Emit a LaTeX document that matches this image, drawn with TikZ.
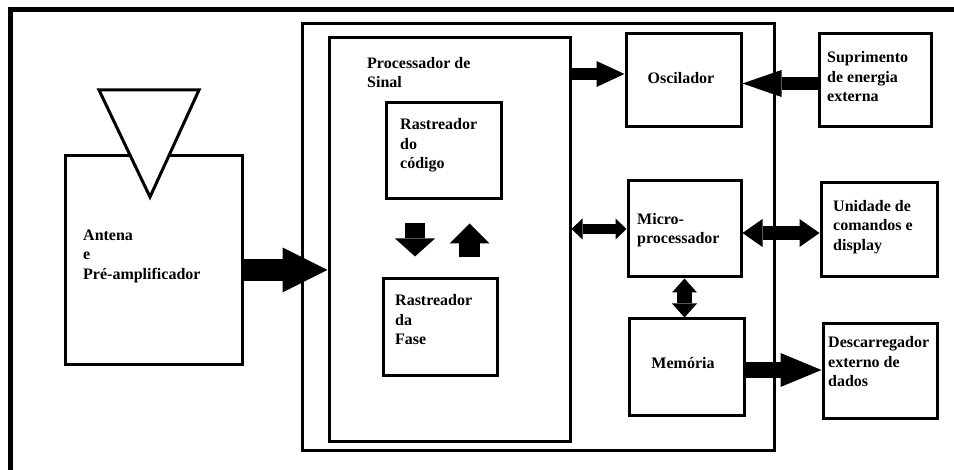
\documentclass[tikz,border=0pt]{standalone}
\usepackage{fontspec}
\setmainfont{Liberation Serif}
\usetikzlibrary{arrows.meta}
\tikzset{
  box/.style={draw, line width=3pt, inner sep=0pt},
  txt/.style={font=\bfseries\fontsize{16}{19.5}\selectfont, align=left, inner sep=0pt, anchor=west},
  blk/.style n args={3}{line width=#1, arrows={-Triangle[length=#2,width=#3,line width=0pt]}},
  dbl/.style n args={3}{line width=#1, arrows={Triangle[length=#2,width=#3,line width=0pt]-Triangle[length=#2,width=#3,line width=0pt]}}
}
\begin{document}
\begin{tikzpicture}[x=1pt,y=-1pt]
\useasboundingbox (0,0) rectangle (954,470);
% outer frame (only top and left visible)
\draw[line width=5pt, line join=miter] (10.5,480) -- (10.5,9.5) -- (960,9.5);

% boxes
\node[box, minimum width=472pt, minimum height=427pt] (big) at (538,237.5) {};
\node[box, minimum width=241pt, minimum height=404pt] (proc) at (449.5,240) {};
\node[box, minimum width=115pt, minimum height=93pt] (osc) at (683.5,80.5) {};
\node[box, minimum width=112pt, minimum height=93pt] (sup) at (875,80.5) {};
\node[box, minimum width=113pt, minimum height=96pt] (micro) at (684.5,229) {};
\node[box, minimum width=116pt, minimum height=94pt] (uni) at (879,230) {};
\node[box, minimum width=115pt, minimum height=97pt] (mem) at (686.5,367.5) {};
\node[box, minimum width=114pt, minimum height=95pt] (desc) at (880,371.5) {};
\node[box, minimum width=115pt, minimum height=96pt] (cod) at (443.5,151) {};
\node[box, minimum width=114pt, minimum height=97pt] (fase) at (440,327.5) {};
\node[box, minimum width=177pt, minimum height=209pt] (ant) at (153.5,260.5) {};
% antenna symbol
\draw[line width=3pt, fill=white, line join=miter] (99,90) -- (199,90) -- (150,197) -- cycle;

% texts
\node[txt] (antT) at (83,256) {Antena\\e\\Pré-amplificador};
\node[txt] (procT) at (367,72.5) {Processador de\\Sinal};
\node[txt] (codT) at (400,145.5) {Rastreador\\do\\código};
\node[txt] (faseT) at (395,320) {Rastreador\\da\\Fase};
\node[txt, anchor=center] (oscT) at (681,78) {Oscilador};
\node[txt] (supT) at (827,77) {Suprimento\\de energia\\externa};
\node[txt] (microT) at (637,230) {Micro-\\processador};
\node[txt] (uniT) at (833,227) {Unidade de\\comandos e\\display};
\node[txt, anchor=center] (memT) at (683,363) {Memória};
\node[txt] (descT) at (828,362) {Descarregador\\externo de\\dados};

% connectors
\coordinate (p1) at ([yshift=-30pt]proc.west);
\draw[blk={22pt}{45pt}{45pt}] (ant.east |- p1) -- (p1);

\draw[blk={20pt}{18pt}{40pt}] ([xshift=-28.5pt,yshift=-23pt]cod.south) -- ([xshift=-25pt,yshift=21pt]fase.north);
\draw[blk={21pt}{20pt}{40pt}] ([xshift=29.5pt,yshift=20pt]fase.north) -- ([xshift=26pt,yshift=-23pt]cod.south);

\coordinate (o1) at ([yshift=6.5pt]osc.west);
\draw[blk={12pt}{28pt}{26pt}] (proc.east |- o1) -- (o1);

\coordinate (o2) at ([yshift=-3pt]sup.west);
\draw[blk={13pt}{39pt}{27pt}] (o2) -- (osc.east |- o2);

\draw[dbl={10pt}{11pt}{21pt}] (proc.east |- micro.west) -- (micro.west);

\coordinate (m1) at ([yshift=-4pt]micro.east);
\draw[dbl={14pt}{20pt}{28pt}] (m1) -- (uni.west |- m1);

\draw[dbl={15pt}{14pt}{25pt}] (micro.south) -- (micro.south |- mem.north);

\coordinate (m2) at ([yshift=-2.5pt]mem.east);
\draw[blk={16pt}{41pt}{34pt}] (m2) -- (desc.west |- m2);
\end{tikzpicture}
\end{document}
